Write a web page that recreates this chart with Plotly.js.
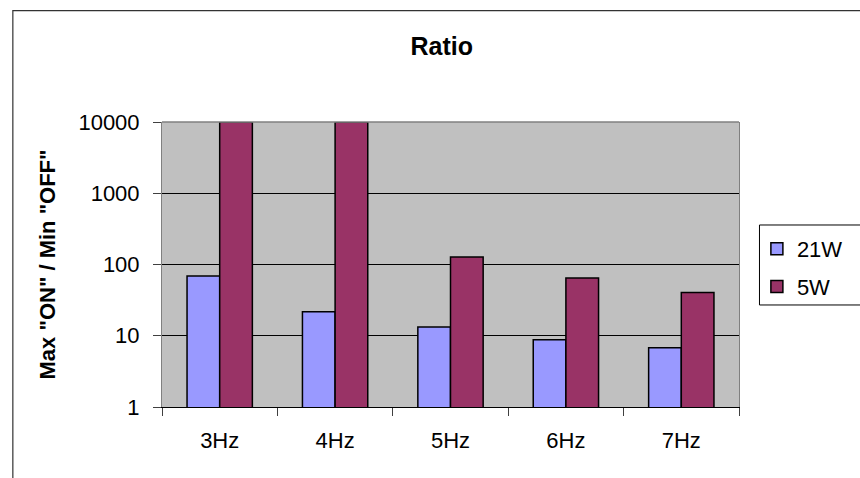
<!DOCTYPE html>
<html>
<head>
<meta charset="utf-8">
<script src="https://cdn.plot.ly/plotly-3.0.1.min.js"></script>
<style>
html,body{margin:0;padding:0;background:#fff;}
#chart{width:860px;height:478px;}
</style>
</head>
<body>
<div id="chart"></div>
<script>
var categories = ['3Hz', '4Hz', '5Hz', '6Hz', '7Hz'];
var series21W = [69, 21.8, 13.3, 8.8, 6.8];
var series5W = [10000, 10000, 127, 64.7, 40.3];
var yTickVals = [1, 10, 100, 1000, 10000];
var yTickText = ['1', '10', '100', '1000', '10000'];

var FONT = 'Liberation Sans, Arial, sans-serif';

var traces = [
  {
    type: 'bar', name: '21W', x: categories, y: series21W,
    legendgroup: 'a',
    marker: {color: '#9999FF', line: {color: '#000000', width: 1.5}}
  },
  {
    type: 'bar', name: '5W', x: categories, y: series5W,
    legendgroup: 'b',
    marker: {color: '#993366', line: {color: '#000000', width: 1.5}}
  }
];

var layout = {
  width: 860, height: 478,
  margin: {l: 162, r: 106, t: 122, b: 71, pad: 0},
  paper_bgcolor: '#FFFFFF',
  plot_bgcolor: '#C0C0C0',
  font: {family: FONT, color: '#000000', size: 22},
  barmode: 'group',
  bargap: 0.434,
  bargroupgap: 0,
  title: {
    text: 'Ratio',
    font: {family: FONT, size: 25, color: '#000000', weight: 'bold'},
    xref: 'container', yref: 'container',
    x: 0.5136, xanchor: 'center', y: 0.903, yanchor: 'middle'
  },
  xaxis: {
    type: 'category',
    showline: true, linecolor: '#000000', linewidth: 1,
    ticks: 'outside', tickson: 'boundaries', ticklen: 8, tickcolor: '#404040', tickwidth: 1,
    ticklabelstandoff: 14,
    tickfont: {family: FONT, size: 22, color: '#000000'},
    showgrid: false, zeroline: false, fixedrange: true
  },
  yaxis: {
    type: 'log', range: [0, 4],
    tickvals: yTickVals, ticktext: yTickText,
    showline: true, linecolor: '#808080', linewidth: 1, mirror: true,
    ticks: 'outside', ticklen: 8, tickcolor: '#404040', tickwidth: 1,
    ticklabelstandoff: 9,
    tickfont: {family: FONT, size: 22, color: '#000000'},
    showgrid: true, gridcolor: '#000000', gridwidth: 1,
    zeroline: false, fixedrange: true,
    title: {
      text: 'Max "ON" / Min "OFF"',
      font: {family: FONT, size: 22, color: '#000000', weight: 'bold'},
      standoff: 16
    }
  },
  showlegend: true,
  legend: {
    x: 1.031, xanchor: 'left',
    y: 0.628, yanchor: 'top',
    bgcolor: 'rgba(0,0,0,0)', borderwidth: 0,
    traceorder: 'grouped', tracegroupgap: 6,
    font: {family: FONT, size: 22, color: '#000000'},
    itemwidth: 30
  },
  shapes: [
    {type: 'line', xref: 'paper', yref: 'paper', x0: 0, x1: 1, y0: 1, y1: 1,
     line: {color: '#808080', width: 1.5}, layer: 'above'},
    {type: 'rect', xref: 'paper', yref: 'paper',
     x0: -0.2585, x1: 1.6, y0: -0.6, y1: 1.3905,
     line: {color: '#333333', width: 1.2}, fillcolor: 'rgba(0,0,0,0)', layer: 'below'},
    {type: 'rect', xref: 'paper', yref: 'paper',
     x0: 1.0355, x1: 1.3, y0: 0.358, y1: 0.6386,
     line: {color: '#000000', width: 1}, fillcolor: '#FFFFFF', layer: 'above'}
  ]
};

Plotly.newPlot('chart', traces, layout, {displayModeBar: false, staticPlot: true});
</script>
</body>
</html>
